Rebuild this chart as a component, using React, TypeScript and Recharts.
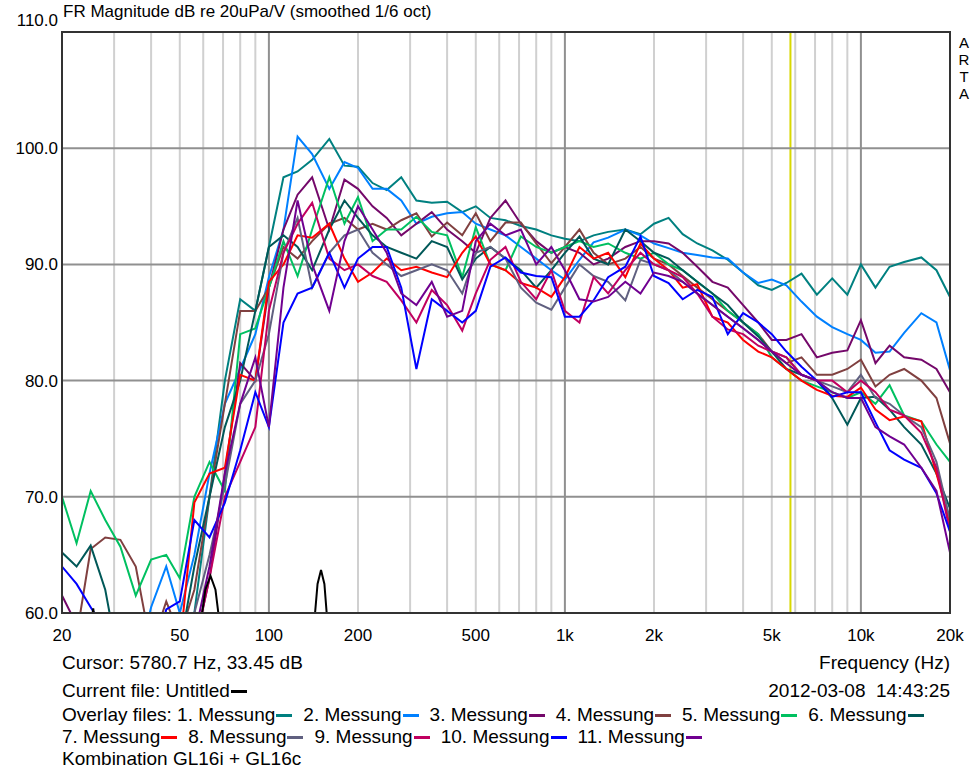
import { CartesianGrid, Line, LineChart, XAxis, YAxis } from 'recharts';

// 1/6 octave frequency grid shared by all overlay curves
const FREQS = [
  20, 22.4, 25, 28, 31.5, 35.5, 40, 45, 50, 56, 63, 71, 80, 90,
  100, 112, 125, 140, 160, 180, 200, 224, 250, 280, 315, 355, 400, 450, 500, 560, 630, 710, 800, 900,
  1000, 1120, 1250, 1400, 1600, 1800, 2000, 2240, 2500, 2800, 3150, 3550, 4000, 4500, 5000, 5600, 6300, 7100, 8000, 9000,
  10000, 11200, 12500, 14000, 16000, 18000, 20000,
];

// dB values per overlay file (values below 60 are clipped by the axis)
const M1 = [
  55, 55, 55, 55, 55, 55, 55, 55, 56, 60, 70, 80, 87, 86,
  91.5, 97.5, 98, 99, 100.8, 98.5, 98.4, 97, 96.4, 97.5, 95.5, 95.3, 95.4, 94.5, 95, 94, 93.8, 93.3, 93, 92.5,
  92.2, 92, 92.5, 92.8, 93, 92.6, 93.5, 94, 92.6, 91.8, 91.2, 90.4, 89.3, 88.2, 87.8, 88.4, 89.2, 87.4, 88.8, 87.4,
  90, 88, 89.8, 90.2, 90.6, 89.5, 87.2,
];
const M2 = [
  55, 55, 55, 55, 55, 55, 60.5, 64, 60, 65, 72, 78, 81, 84,
  88.9, 93, 101, 99.5, 96.5, 98.8, 98.3, 96.5, 96.5, 95.5, 93.5, 94.1, 94.4, 94.5, 93.5, 93, 92.5, 91.5, 90.5, 89.5,
  88.7, 90.4, 91.9, 92.3, 93, 92.5, 91.8, 91.4, 91, 90.8, 90.6, 90.5, 89.3, 88.4, 88.7, 88.2, 86.8, 85.5, 84.6, 84,
  83.5, 82.4, 82.5, 84.1, 85.8, 85, 80.9,
];
const M3 = [
  61.5, 59, 55, 55, 55, 55, 55, 55, 55, 57, 63, 72, 81.5, 80,
  88, 93, 96, 97.5, 93, 97.3, 96.5, 95, 94, 92.5, 93.5, 94.5, 93, 92, 91, 94, 95.5, 93.5, 92, 91,
  91.5, 91, 90, 90.5, 91.5, 92, 92, 91.8, 91, 89.8, 88.5, 88, 86.5, 85, 83.5, 83.5, 84, 82, 82.4, 82.6,
  85.2, 81.5, 83, 82, 81.8, 81, 79,
];
const M4 = [
  55, 58, 65.5, 66.5, 66.3, 64, 57, 61, 58, 62, 70, 78, 86, 86,
  88, 91.5, 90.5, 92, 93.5, 94, 93, 93.5, 93, 93.8, 94.4, 92.4, 93.6, 92.5, 94.4, 92, 93.6, 93.6, 91.8, 90.1,
  91.5, 93, 91, 90, 90.5, 91.5, 90.5, 90, 89, 88, 87, 86, 85, 84, 82.5, 81.5, 82, 80.5, 80.5, 81,
  81.8, 79.5, 80.5, 81, 80, 78.5, 74.6,
];
const M5 = [
  70, 66, 70.5, 68, 65.7, 61.5, 64.6, 65, 63, 70, 73, 70.5, 84, 84.5,
  88, 92, 89, 93, 97.5, 93.5, 95.8, 92, 93, 93, 94.1, 92.8, 92.5, 88.9, 93.2, 90, 89.5, 92.4, 91.5, 91,
  91.5, 92, 91.5, 91.8, 91, 90.5, 91, 90, 89.5, 88.5, 87.5, 86, 85, 84, 82, 81, 80, 79.5, 79, 78.5,
  79, 78, 79.6, 77, 76.5, 74.5, 73,
];
const M6 = [
  65.2, 64, 65.8, 62, 55, 55, 55, 55, 57, 64, 70, 76, 80, 86,
  91.5, 92.5, 91.5, 89.5, 93, 95.5, 94, 92.5, 91.5, 91, 90.5, 92, 91.5, 88.7, 90.5, 91.5, 90.5, 89.5, 88, 89.5,
  91, 92.4, 90.5, 90, 93, 92, 91, 90.5, 89.5, 88.5, 87.5, 86.5, 85, 83.8, 82.5, 81, 80.5, 80, 78.5, 76.2,
  78.5, 78.6, 77.5, 76, 74.5, 72, 69,
];
const M7 = [
  55, 55, 55, 55, 55, 55, 55, 55, 57, 69.5, 72, 72.5, 80.5, 80,
  88.5, 90, 92.5, 92.3, 93.5, 90.5, 88.5, 89.3, 90.5, 89.5, 89.8, 89.3, 88.9, 91, 92.4, 90, 89.5, 88.4, 88, 87.2,
  88.9, 91.5, 90.5, 91, 88.9, 91.8, 90.5, 89.5, 88, 88.3, 85.5, 85, 83.5, 82.5, 82, 81, 80, 79.2, 78.7, 78.6,
  79.4, 77.5, 76.6, 76.9, 76.5, 72, 67.7,
];
const M8 = [
  55, 55, 55, 55, 55, 55, 55, 55, 57, 60, 65, 71, 78, 80,
  84, 91, 94, 88, 91, 92.5, 93, 91, 90, 89, 89.5, 90, 89.5, 87.5, 91, 91.5, 90.5, 88, 86.7, 86.1,
  88, 90, 89, 88.5, 86.9, 90.4, 90, 89.5, 88.5, 87.5, 86.5, 85.5, 84.5, 83.5, 82.5, 82, 80.5, 80, 79.5, 79,
  80.5, 78.5, 78, 77, 76, 73, 68,
];
const M9 = [
  55, 55, 55, 55, 55, 55, 55, 55, 55, 57, 63, 70, 73, 76,
  86, 91, 93.5, 95.3, 90.5, 89.5, 90, 89, 88.5, 86.9, 85, 87.8, 86.5, 84.3, 87.5, 90.4, 91.5, 88.5, 87, 89.5,
  86, 85, 88.9, 87.5, 89.5, 91, 90, 89.5, 88.9, 87.5, 85.5, 84.4, 84, 83, 82.5, 82, 80.5, 80, 80, 79,
  80, 79, 77.5, 77, 75.5, 72.5, 67,
];
const M10 = [
  64, 62.5, 60.5, 58.5, 56, 55, 55, 60.3, 61, 68, 66.5, 69.5, 74, 79,
  76, 85, 87.5, 88, 91, 88, 90.5, 91.5, 91.5, 88, 81, 87, 86, 85, 86, 89.8, 90.6, 89.3, 89, 88.9,
  85.5, 85.5, 86.9, 88.9, 89.8, 92.4, 89, 88.4, 87, 87.8, 87.2, 84, 85.8, 85, 84, 82.5, 81.2, 80, 78.6, 79,
  79, 76.4, 74, 73.2, 72.5, 70.3, 67,
];
const M11 = [
  55, 55, 55, 55, 55, 55, 55, 55, 55, 58, 64, 72, 78, 82,
  76, 88, 95.5, 90, 86, 92, 95, 93, 91, 87.5, 86.5, 88.5, 85.5, 86, 92, 93.5, 92.5, 93, 90, 91.5,
  89.5, 87, 86.8, 87.2, 88.5, 87.5, 89.3, 89, 88.5, 87.5, 86.5, 85.5, 84.5, 83.5, 82.5, 81.5, 80.5, 80, 79, 78.5,
  78.5, 76, 75.2, 74.5, 72.5, 70.5, 65.2,
];

// current file (black), mostly below the plotted range
const CURRENT_FREQS = [20, 24, 25.5, 27, 55, 58, 61, 63.5, 66, 69, 72, 135, 141, 146, 150, 154, 159, 165, 20000];
const CURRENT_DB = [52, 55, 60.4, 55, 52, 58, 62, 63.2, 62, 58, 52, 52, 58, 62.5, 63.7, 62.5, 58, 52, 52];

const SERIES = [M1, M2, M3, M4, M5, M6, M7, M8, M9, M10, M11];
const NAMES = ['1. Messung', '2. Messung', '3. Messung', '4. Messung', '5. Messung', '6. Messung',
  '7. Messung', '8. Messung', '9. Messung', '10. Messung', '11. Messung'];
const COLORS = ['#008080', '#0080FF', '#74086A', '#804040', '#00C060', '#005858',
  '#FF0000', '#606080', '#C00060', '#0000FF', '#700090'];

const X_TICKS = [20, 50, 100, 200, 500, 1000, 2000, 5000, 10000, 20000];
const Y_TICKS = [60, 70, 80, 90, 100, 110];
const MINOR_GRID = [30, 40, 50, 60, 70, 80, 90, 200, 300, 400, 500, 600, 700, 800, 900,
  2000, 3000, 4000, 5000, 6000, 7000, 8000, 9000];
const MAJOR_GRID = [100, 1000, 10000];
const CURSOR_HZ = 5780.7;
const BRAND = ['A', 'R', 'T', 'A'];

const chartData = FREQS.map((f, i) => {
  const row: Record<string, number> = { f };
  SERIES.forEach((s, k) => { row['m' + (k + 1)] = s[i]; });
  return row;
});
const currentData = CURRENT_FREQS.map((f, i) => ({ f, cur: CURRENT_DB[i] }));

const FONT = '"Liberation Sans", Arial, sans-serif';

const fmtX = (v: number) => (v >= 1000 ? `${v / 1000}k` : `${v}`);

const XTick = (props: any) => (
  <text x={props.x} y={props.y} dy={20} textAnchor="middle" fontSize={17} fontFamily={FONT} fill="#000">
    {fmtX(props.payload.value)}
  </text>
);

const YTick = (props: any) => (
  <text x={props.x + 4} y={props.y} dy={props.payload.value === 110 ? -6 : 6} textAnchor="end" fontSize={17} fontFamily={FONT} fill="#000">
    {props.payload.value.toFixed(1)}
  </text>
);

const Swatch = ({ color }: { color: string }) => (
  <span style={{ display: 'inline-block', width: 16, height: 3, background: color, marginLeft: 1, marginRight: 11, verticalAlign: 'middle' }} />
);

const lineStyle = { position: 'absolute' as const, left: 62, fontSize: 19, lineHeight: '22px', whiteSpace: 'nowrap' as const };

export default function App() {
  return (
    <div style={{ position: 'absolute', left: 0, top: 0, width: 972, height: 769, background: '#fff', fontFamily: FONT, color: '#000' }}>
      <LineChart width={972} height={660} data={chartData} margin={{ top: 32, right: 22, left: 0, bottom: 0 }}>
        <CartesianGrid horizontal={false} verticalValues={MINOR_GRID} stroke="#D0D0D0" strokeWidth={2} />
        <CartesianGrid horizontal={false} verticalValues={[CURSOR_HZ]} stroke="#D8D800" strokeWidth={2} />
        <CartesianGrid verticalValues={MAJOR_GRID} horizontalValues={Y_TICKS} stroke="#909090" strokeWidth={2} />
        <XAxis dataKey="f" type="number" scale="log" domain={[20, 20000]} allowDataOverflow ticks={X_TICKS}
          height={47} axisLine={false} tickLine={false} tick={<XTick />} interval={0} />
        <YAxis type="number" domain={[60, 110]} allowDataOverflow ticks={Y_TICKS} width={62}
          axisLine={false} tickLine={false} tick={<YTick />} interval={0} />
        {SERIES.map((_, k) => (
          <Line key={k} dataKey={'m' + (k + 1)} stroke={COLORS[k]} strokeWidth={2} dot={false}
            type="linear" isAnimationActive={false} />
        ))}
        <Line data={currentData} dataKey="cur" stroke="#000" strokeWidth={2} dot={false}
          type="linear" isAnimationActive={false} />
      </LineChart>

      {/* plot frame */}
      <div style={{ position: 'absolute', left: 61, top: 31, width: 890, height: 583, boxSizing: 'border-box', border: '2px solid #333' }} />

      <div style={{ position: 'absolute', left: 63, top: 2, fontSize: 17, lineHeight: '19px', whiteSpace: 'nowrap' }}>
        FR Magnitude dB re 20uPa/V (smoothed 1/6 oct)
      </div>
      {BRAND.map((c, i) => (
        <div key={i} style={{ position: 'absolute', left: 958, top: 35 + i * 17, width: 12, textAlign: 'center', fontSize: 15, lineHeight: '15px' }}>
          {c}
        </div>
      ))}

      <div style={{ ...lineStyle, top: 652 }}>Cursor: 5780.7 Hz, 33.45 dB</div>
      <div style={{ ...lineStyle, top: 652, left: undefined, right: 22 }}>Frequency (Hz)</div>
      <div style={{ ...lineStyle, top: 680 }}>Current file: Untitled<Swatch color="#000" /></div>
      <div style={{ ...lineStyle, top: 680, left: undefined, right: 22 }}>2012-03-08&nbsp;&nbsp;14:43:25</div>
      <div style={{ ...lineStyle, top: 704 }}>
        Overlay files: {NAMES.slice(0, 6).map((n, k) => (
          <span key={k}>{n}<Swatch color={COLORS[k]} /></span>
        ))}
      </div>
      <div style={{ ...lineStyle, top: 726 }}>
        {NAMES.slice(6).map((n, k) => (
          <span key={k}>{n}<Swatch color={COLORS[k + 6]} /></span>
        ))}
      </div>
      <div style={{ ...lineStyle, top: 748 }}>Kombination GL16i + GL16c</div>
    </div>
  );
}
